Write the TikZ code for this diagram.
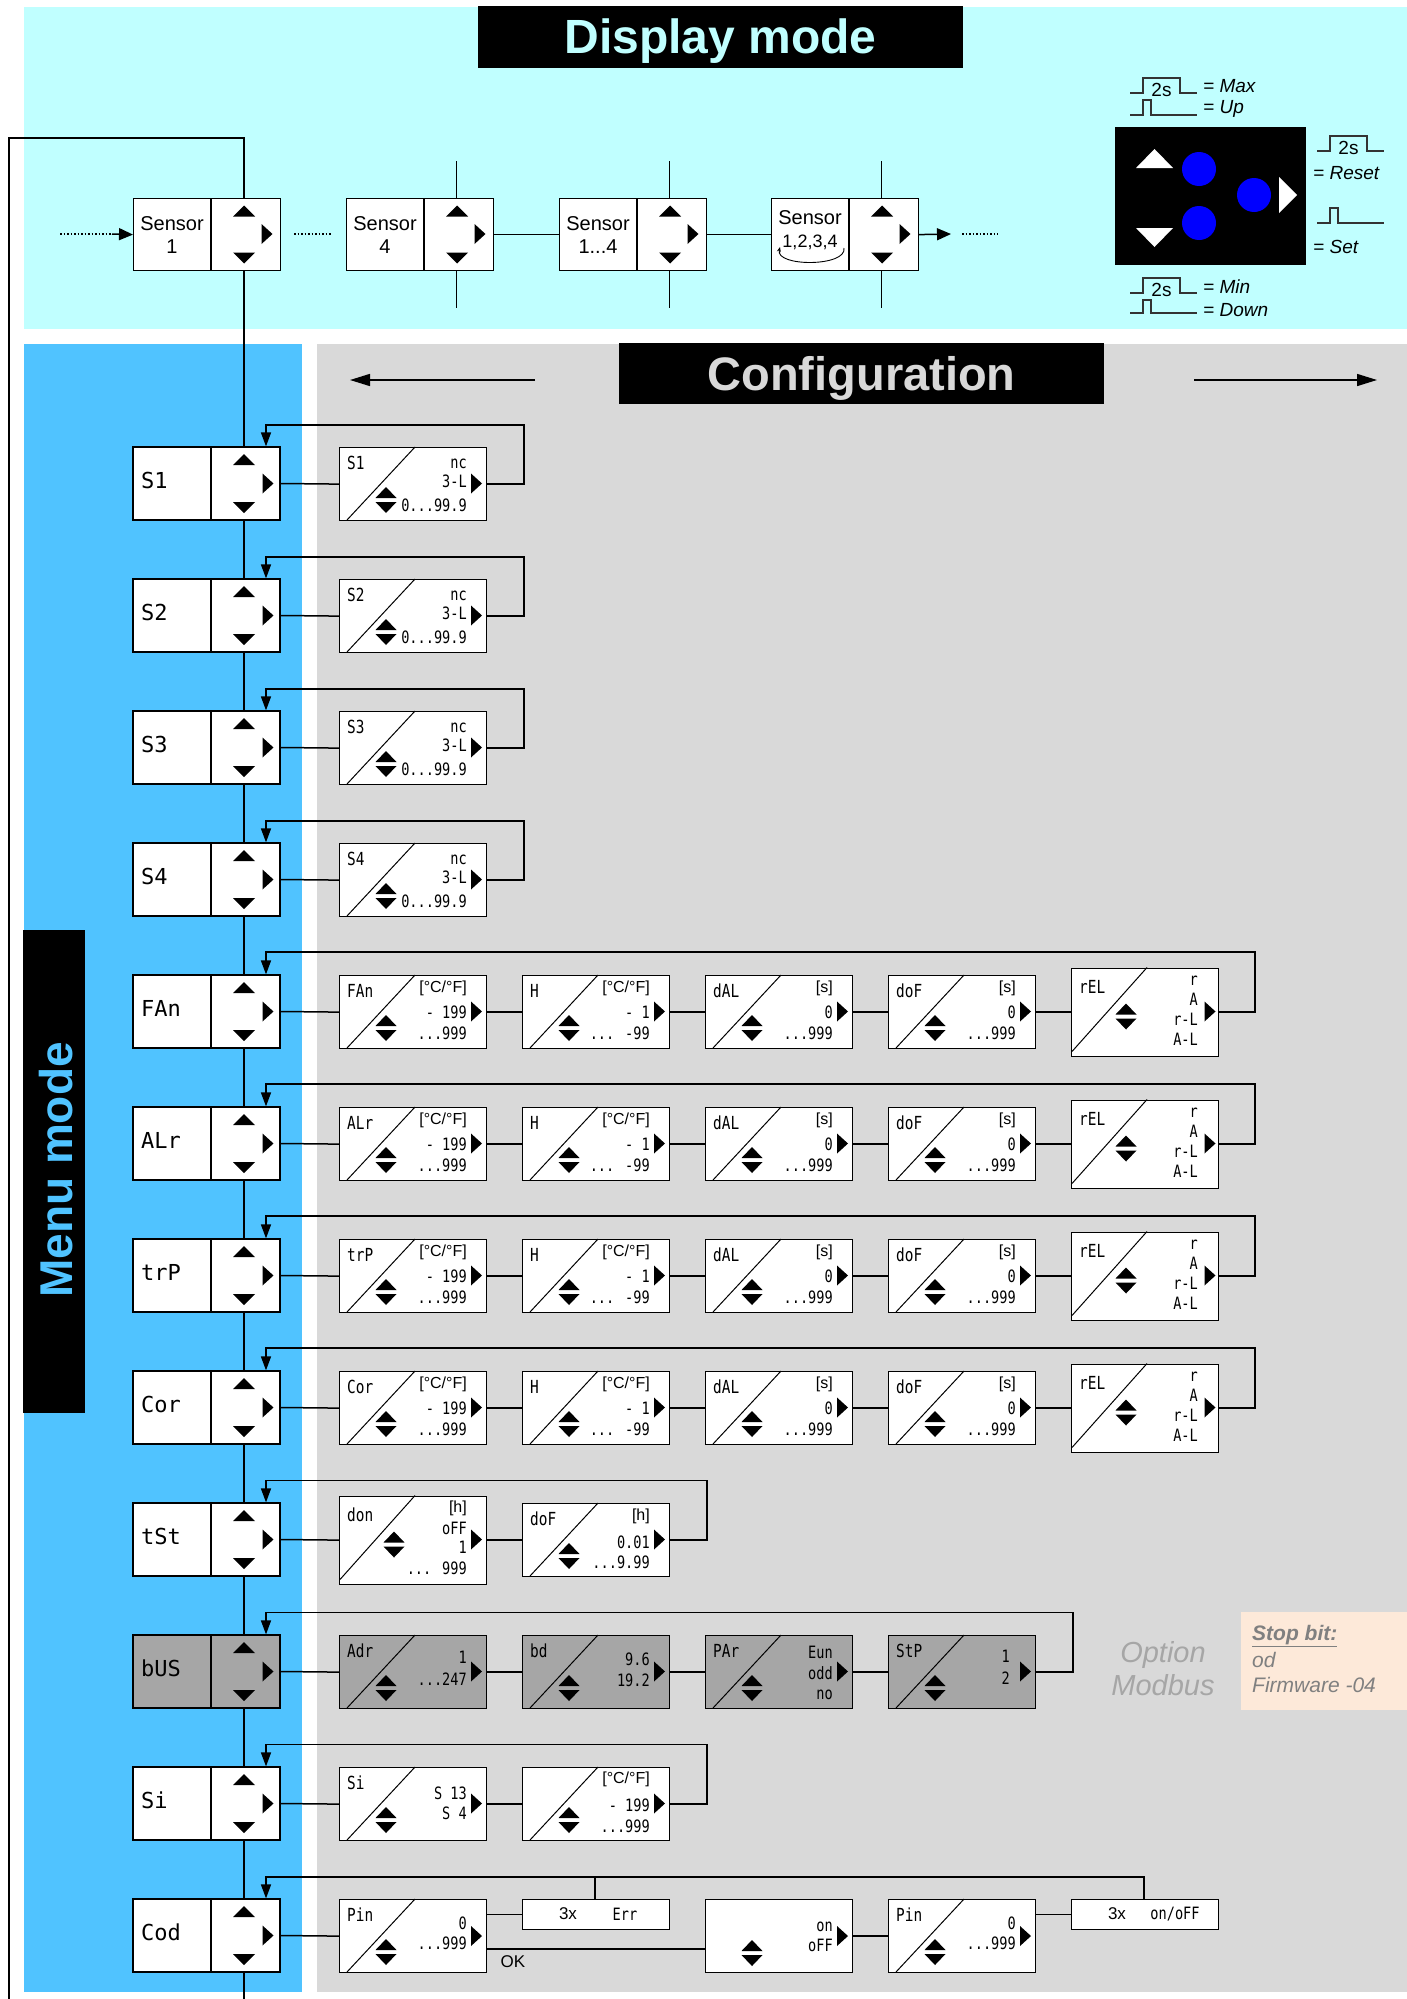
\documentclass[tikz,border=0pt]{standalone}
\usepackage{fontspec}
\setmainfont{Liberation Sans}
\newfontfamily\lcd{DejaVu Sans Mono}
\newfontfamily\lcdn[FakeStretch=0.8]{DejaVu Sans Mono}
\usetikzlibrary{arrows.meta,calc}
\definecolor{cyanbg}{RGB}{192,255,255}
\definecolor{menublue}{RGB}{80,195,255}
\definecolor{cfggray}{RGB}{217,217,217}
\definecolor{dkgray}{RGB}{166,166,166}
\definecolor{peach}{RGB}{253,233,217}
\definecolor{stopgray}{RGB}{128,128,128}
\definecolor{optgray}{RGB}{166,166,166}
\definecolor{keyblue}{RGB}{0,0,255}
\tikzset{
 ln/.style={line width=1.5pt},
 boxs/.style={draw, line width=1.2pt, inner sep=0pt, minimum width=147pt, minimum height=73pt},
 val/.style={font=\lcdn\fontsize{17}{17}\selectfont, inner sep=0pt, text height=12.4pt, text depth=0pt, anchor=east},
 nam/.style={font=\lcdn\fontsize{18}{18}\selectfont, inner sep=0pt, text height=13pt, text depth=0pt, anchor=west},
 mlab/.style={font=\lcd\fontsize{22}{22}\selectfont, inner sep=0pt, text height=16pt, text depth=0pt, anchor=west},
 unit/.style={font=\fontsize{16}{16}\selectfont, inner sep=0pt, text height=11.5pt, text depth=0pt, anchor=east},
 backarr/.style={ln, -{Triangle[width=10pt,length=14pt]}},
 pulse/.style={line width=1.3pt, draw=black!80},
 keylab/.style={anchor=west, font=\itshape\fontsize{19}{19}\selectfont, inner sep=0pt},
}
\newcommand\tup[2]{\fill (#1-11,#2+5.5) -- (#1+11,#2+5.5) -- (#1,#2-5.5) -- cycle;}
\newcommand\tdn[2]{\fill (#1-11,#2-5.5) -- (#1+11,#2-5.5) -- (#1,#2+5.5) -- cycle;}
\newcommand\trt[2]{\fill (#1-5.5,#2-10) -- (#1-5.5,#2+10) -- (#1+5.5,#2) -- cycle;}
\newcommand\ud[2]{\fill (#1-10.5,#2+11) -- (#1+10.5,#2+11) -- (#1,#2) -- cycle; \fill (#1-10.5,#2+15) -- (#1+10.5,#2+15) -- (#1,#2+26) -- cycle;}
\newcommand\menubox[4]{%
 \node[boxs, fill=#4] (#1) at (206.5,#2) {};
 \draw[line width=1.2pt] (211,#2-36.5) -- (211,#2+36.5);
 \node[mlab] (#1-l) at (141,#2-3) {#3};
 \tup{244}{#2-24}\tdn{244}{#2+24}\trt{268}{#2}}
\newcommand\stdbox[5]{%
 \node[boxs, fill=#4, anchor=north west] (#1) at (#2,#3) {};
 \draw[line width=1pt] (#2+8,#3+73) -- (#2+76,#3);
 \node[nam] (#1-n) at (#2+8,#3+16) {#5};
 \ud{#2+47}{#3+40}}
\newcommand\tallbox[5]{%
 \node[boxs, minimum height=88pt, fill=#4, anchor=north west] (#1) at (#2,#3) {};
 \draw[line width=1pt] (#2+1,#3+84) -- (#2+76,#3);
 \node[nam] (#1-n) at (#2+8,#3+19) {#5};
 \ud{#2+55}{#3+36}}
\newcommand\srow[3]{%
 \menubox{m#1}{#2}{#3}{white}
 \stdbox{a#1}{339}{#2-36.5}{white}{#3}
 \node[val] at (467,#2-21.5) {nc};
 \node[val] at (467,#2-2.5) {3-L};
 \node[val] at (467,#2+21.5) {0...99.9};
 \trt{476.5}{#2}
 \draw[ln] (m#1.east) -- (a#1.west);
 \draw[backarr] (a#1.east) -- ++(37,0) |- (266,#2-58.5) -- (m#1.north -| ax);}
\newcommand\chainrow[3]{%
 \menubox{m#1}{#2}{#3}{white}
 \stdbox{a#1}{339}{#2-36.5}{white}{#3}
 \node[unit] at (467,#2-24.5) {[°C/°F]};
 \node[val] at (467,#2+0.5) {- 199};
 \node[val] at (467,#2+21.5) {...999};
 \trt{476.5}{#2}
 \stdbox{b#1}{522}{#2-36.5}{white}{H}
 \node[unit] at (650,#2-24.5) {[°C/°F]};
 \node[val] at (650,#2+0.5) {- 1};
 \node[val] at (650,#2+21.5) {... -99};
 \trt{659.5}{#2}
 \stdbox{c#1}{705}{#2-36.5}{white}{dAL}
 \node[unit] at (833,#2-24.5) {[s]};
 \node[val] at (833,#2+0.5) {0};
 \node[val] at (833,#2+21.5) {...999};
 \trt{842.5}{#2}
 \stdbox{d#1}{888}{#2-36.5}{white}{doF}
 \node[unit] at (1016,#2-24.5) {[s]};
 \node[val] at (1016,#2+0.5) {0};
 \node[val] at (1016,#2+21.5) {...999};
 \trt{1025.5}{#2}
 \tallbox{e#1}{1071}{#2-44}{white}{rEL}
 \node[val] at (1198,#2-32) {r};
 \node[val] at (1198,#2-12) {A};
 \node[val] at (1198,#2+8) {r-L};
 \node[val] at (1198,#2+28) {A-L};
 \trt{1210}{#2}
 \draw[ln] (m#1.east) -- (a#1.west);
 \draw[ln] (a#1.east) -- (b#1.west);
 \draw[ln] (b#1.east) -- (c#1.west);
 \draw[ln] (c#1.east) -- (d#1.west);
 \draw[ln] (d#1.east) -- (e#1.east -| e#1.west);
 \draw[backarr] (e#1.east) -- ++(36,0) |- (266,#2-59.5) -- (m#1.north -| ax);}
\newcommand\sensorbox[2]{%
 \node[boxs, fill=white, anchor=north west, minimum height=72pt] (#1) at (#2,198) {};
 \draw[line width=1.2pt] (#2+78,198) -- (#2+78,270);
 \tup{#2+111}{211}\tdn{#2+111}{258}\trt{#2+134}{234}}
\newcommand\pulsetwo[3]{%
 \draw[pulse] (#1,#3) -- (#1+13,#3) -- (#1+13,#2) -- (#1+50,#2) -- (#1+50,#3) -- (#1+67,#3);
 \node[font=\fontsize{19}{19}\selectfont, inner sep=0pt] at (#1+31.5,#3-3.5) {2s};}
\newcommand\pulseone[3]{%
 \draw[pulse] (#1,#3) -- (#1+13,#3) -- (#1+13,#2) -- (#1+21,#2) -- (#1+21,#3) -- (#1+67,#3);}
\begin{document}
\begin{tikzpicture}[x=1pt,y=-1pt]
\useasboundingbox (0,0) rectangle (1407,1999);
\fill[white] (0,0) rectangle (1407,1999);
% backgrounds
\fill[cyanbg] (24,7) rectangle (1407,329);
\fill[menublue] (24,344) rectangle (302,1992);
\fill[cfggray] (317,344) rectangle (1407,1992);
\coordinate (ax) at (266,0);
\coordinate (colx) at (244,0);
% titles
\node[fill=black, minimum width=485pt, minimum height=62pt, inner sep=0pt] (dmbox) at (720.5,37) {};
\node[anchor=base, text=cyanbg, font=\bfseries\fontsize{48}{48}\selectfont, inner sep=0pt] (dmtext) at (720.5,54) {Display mode};
\node[fill=black, minimum width=485pt, minimum height=61pt, inner sep=0pt] (cfbox) at (861.5,373.5) {};
\node[anchor=base, text=cfggray, font=\bfseries\fontsize{47}{47}\selectfont, inner sep=0pt] (cftext) at (861.5,390) {Configuration};
\node[fill=black, minimum width=62pt, minimum height=483pt, inner sep=0pt] (mmbox) at (54,1171.5) {};
\node[anchor=base, rotate=90, text=menublue, font=\bfseries\fontsize{46}{46}\selectfont, inner sep=0pt] (mmtext) at (72,1170) {Menu mode};
% configuration arrows
\coordinate (cl1) at (535,380); \coordinate (cl2) at (350,380);
\coordinate (cr1) at (1194,380); \coordinate (cr2) at (1377,380);
\draw[ln, -{Triangle[width=12pt,length=20pt]}] (cl1) -- (cl2);
\draw[ln, -{Triangle[width=12pt,length=20pt]}] (cr1) -- (cr2);
% sensor row
\coordinate (lbot) at (9,1999); \coordinate (ltop) at (9,138); \coordinate (ctop) at (244,138);
\draw[ln] (lbot) -- (ltop) -- (ctop) -- (colx |- 0,198);
\coordinate (din) at (60,234); \coordinate (dinb) at (112,234);
\draw[ln, dotted] (din) -- (dinb);
\coordinate (d1a) at (294,234); \coordinate (d1b) at (332,234);
\draw[ln, dotted] (d1a) -- (d1b);
\foreach \xx in {456.5,669.5,881.5} {
 \draw[ln] (\xx,161) -- (\xx,198);
 \draw[ln] (\xx,270) -- (\xx,308);
}
\sensorbox{s1}{133}
\sensorbox{s4}{346}
\sensorbox{s14}{559}
\sensorbox{s1234}{771}
\draw[ln, -{Triangle[width=12pt,length=14pt]}] (dinb) -- (s1.west);
\draw[ln] (s4.east) -- (s14.west);
\draw[ln] (s14.east) -- (s1234.west);
\coordinate (dout) at (951,234);
\draw[ln, -{Triangle[width=12pt,length=14pt]}] (s1234.east) -- (dout);
\coordinate (d2a) at (962,234); \coordinate (d2b) at (998,234);
\draw[ln, dotted] (d2a) -- (d2b);
\node[align=center, font=\fontsize{20}{23}\selectfont, inner sep=0pt] (s1t) at (172,235) {Sensor\\1};
\node[align=center, font=\fontsize{20}{23}\selectfont, inner sep=0pt] (s4t) at (385,235) {Sensor\\4};
\node[align=center, font=\fontsize{20}{23}\selectfont, inner sep=0pt] (s14t) at (598,235) {Sensor\\1...4};
\node[font=\fontsize{20}{20}\selectfont, inner sep=0pt] (s1234t) at (810,218) {Sensor};
\node[font=\fontsize{18}{18}\selectfont, inner sep=0pt] (s1234n) at (810,242) {1,2,3,4};
\draw[line width=0.9pt, -{Stealth[length=5pt,width=4pt]}] (844,248) .. controls (847,267) and (775,267) .. (780,247);
% keypad
\node[fill=black, minimum width=191pt, minimum height=138pt, inner sep=0pt] (keypad) at (1210.5,196) {};
\fill[white] (1136,168) -- (1173,168) -- (1154.5,149) -- cycle;
\fill[white] (1136,228) -- (1173,228) -- (1154.5,247) -- cycle;
\fill[white] (1279,177) -- (1279,213) -- (1297,195) -- cycle;
\fill[keyblue] (1199,169) circle (17);
\fill[keyblue] (1254,195) circle (17);
\fill[keyblue] (1199,223) circle (17);
\pulsetwo{1130}{78}{93}
\node[keylab] (kmax) at (1203,86) {= Max};
\pulseone{1130}{100}{115}
\node[keylab] (kup) at (1203,109) {= Up};
\pulsetwo{1317}{136}{151}
\node[keylab] (kreset) at (1313,173) {= Reset};
\pulseone{1317}{208}{223}
\node[keylab] (kset) at (1313,247) {= Set};
\pulsetwo{1130}{278}{293}
\node[keylab] (kmin) at (1203,287) {= Min};
\pulseone{1130}{300}{313}
\node[keylab] (kdown) at (1203,310) {= Down};
% sensor menu rows
\srow{S1}{483.5}{S1}
\srow{S2}{615.5}{S2}
\srow{S3}{747.5}{S3}
\srow{S4}{879.5}{S4}
\chainrow{FAn}{1011.5}{FAn}
\chainrow{ALr}{1143.5}{ALr}
\chainrow{trP}{1275.5}{trP}
\chainrow{Cor}{1407.5}{Cor}
% tSt row
\menubox{mtSt}{1539.5}{tSt}{white}
\tallbox{atSt}{339}{1495.5}{white}{don}
\node[unit] at (467,1506.5) {[h]};
\node[val] at (467,1528.5) {oFF};
\node[val] at (467,1547.5) {1};
\node[val] at (467,1568.5) {... 999};
\trt{476.5}{1539.5}
\stdbox{btSt}{522}{1503}{white}{doF}
\node[unit] at (650,1515) {[h]};
\node[val] at (650,1542) {0.01};
\node[val] at (650,1562) {...9.99};
\trt{659.5}{1539.5}
\draw[ln] (mtSt.east) -- (atSt.west);
\draw[ln] (atSt.east) -- (btSt.west);
\draw[backarr] (btSt.east) -- ++(37,0) |- (266,1480.5) -- (mtSt.north -| ax);
% bUS row
\menubox{mbUS}{1671.5}{bUS}{dkgray}
\stdbox{abUS}{339}{1635}{dkgray}{Adr}
\node[val] at (467,1657) {1};
\node[val] at (467,1679) {...247};
\trt{476.5}{1671.5}
\stdbox{bbUS}{522}{1635}{dkgray}{bd}
\node[val] at (650,1659) {9.6};
\node[val] at (650,1680) {19.2};
\trt{659.5}{1671.5}
\stdbox{cbUS}{705}{1635}{dkgray}{PAr}
\node[val] at (833,1652) {Eun};
\node[val] at (833,1673) {odd};
\node[val] at (833,1693) {no};
\trt{842.5}{1671.5}
\stdbox{dbUS}{888}{1635}{dkgray}{StP}
\node[val] at (1010,1656) {1};
\node[val] at (1010,1678) {2};
\trt{1025.5}{1671.5}
\draw[ln] (mbUS.east) -- (abUS.west);
\draw[ln] (abUS.east) -- (bbUS.west);
\draw[ln] (bbUS.east) -- (cbUS.west);
\draw[ln] (cbUS.east) -- (dbUS.west);
\draw[backarr] (dbUS.east) -- ++(37,0) |- (266,1612.5) -- (mbUS.north -| ax);
\node[align=center, font=\itshape\fontsize{29}{33}\selectfont, text=optgray, inner sep=0pt] (optmod) at (1163,1669) {Option\\Modbus};
\node[fill=peach, minimum width=166pt, minimum height=98pt, inner sep=0pt, anchor=north west] (stopbox) at (1241,1612) {};
\node[anchor=west, font=\bfseries\itshape\fontsize{21}{21}\selectfont, text=stopgray, inner sep=0pt] (stop1) at (1252,1636) {\underline{Stop bit:}};
\node[anchor=west, font=\itshape\fontsize{21}{21}\selectfont, text=stopgray, inner sep=0pt] (stop2) at (1252,1660) {od};
\node[anchor=west, font=\itshape\fontsize{21}{21}\selectfont, text=stopgray, inner sep=0pt] (stop3) at (1252,1685) {Firmware -04};
% Si row
\menubox{mSi}{1803.5}{Si}{white}
\stdbox{aSi}{339}{1767}{white}{Si}
\node[val] at (467,1793) {S 13};
\node[val] at (467,1813) {S  4};
\trt{476.5}{1803.5}
\stdbox{bSi}{522}{1767}{white}{}
\node[unit] at (650,1778) {[°C/°F]};
\node[val] at (650,1805) {- 199};
\node[val] at (650,1826) {...999};
\trt{659.5}{1803.5}
\draw[ln] (mSi.east) -- (aSi.west);
\draw[ln] (aSi.east) -- (bSi.west);
\draw[backarr] (bSi.east) -- ++(37,0) |- (266,1744.5) -- (mSi.north -| ax);
% Cod row
\menubox{mCod}{1935.5}{Cod}{white}
\stdbox{aCod}{339}{1899}{white}{Pin}
\node[val] at (467,1923) {0};
\node[val] at (467,1943) {...999};
\trt{476.5}{1936}
\node[boxs, minimum height=30pt, anchor=north west, fill=white] (errb) at (522,1899) {};
\node[font=\fontsize{17}{17}\selectfont, inner sep=0pt] (errx) at (568,1914) {3x};
\node[font=\lcdn\fontsize{17}{17}\selectfont, inner sep=0pt] (errt) at (625,1914) {Err};
\node[boxs, anchor=north west, fill=white] (onsel) at (705,1899) {};
\node[val] at (833,1925) {on};
\node[val] at (833,1945) {oFF};
\trt{842.5}{1936}
\ud{752}{1940}
\stdbox{dCod}{888}{1899}{white}{Pin}
\node[val] at (1016,1923) {0};
\node[val] at (1016,1943) {...999};
\trt{1025.5}{1936}
\node[boxs, minimum height=30pt, anchor=north west, fill=white] (onoffb) at (1071,1899) {};
\node[font=\fontsize{17}{17}\selectfont, inner sep=0pt] (onx) at (1117,1914) {3x};
\node[font=\lcdn\fontsize{17}{17}\selectfont, inner sep=0pt] (ont) at (1175,1914) {on/oFF};
\draw[ln] (mCod.east) -- (aCod.west);
\draw[ln] (aCod.east |- errb.west) -- (errb.west);
\draw[ln] ($(aCod.east)+(0,13)$) -- ($(onsel.west)+(0,13)$);
\node[font=\fontsize{17}{17}\selectfont, inner sep=0pt] (oklab) at (513,1962) {OK};
\draw[ln] (onsel.east) -- (dCod.west);
\draw[ln] (dCod.east |- onoffb.west) -- (onoffb.west);
\coordinate (codtop) at (1144,1877);
\coordinate (errtop) at (595,1877);
\draw[ln] (errb.north -| errtop) -- (errtop);
\draw[backarr] (onoffb.north -| codtop) -- (codtop) -- (codtop -| ax) -- (mCod.north -| ax);
% main vertical connectors
\draw[ln] (s1.south -| colx) -- (mS1.north -| colx);
\foreach \a/\b in {S1/S2,S2/S3,S3/S4,S4/FAn,FAn/ALr,ALr/trP,trP/Cor,Cor/tSt,tSt/bUS,bUS/Si,Si/Cod}
 \draw[ln] (m\a.south -| colx) -- (m\b.north -| colx);
\coordinate (cbot) at (244,1999);
\draw[ln] (mCod.south -| colx) -- (cbot);
\end{tikzpicture}
\end{document}
